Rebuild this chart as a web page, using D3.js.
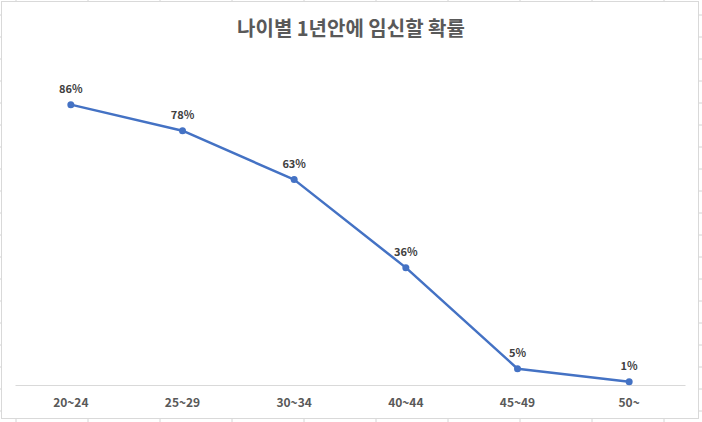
<!DOCTYPE html>
<html><head><meta charset="utf-8">
<script src="https://cdn.jsdelivr.net/npm/d3@7"></script>
<style>html,body{margin:0;padding:0;background:#fff;}svg{display:block;}</style>
</head><body>
<svg id="c" width="702" height="422"></svg>
<script>
const title = "나이별 1년안에 임신할 확률";
const categories = ["20~24","25~29","30~34","40~44","45~49","50~"];
const values = [86, 78, 63, 36, 5, 1];
const valueLabels = ["86%","78%","63%","36%","5%","1%"];

const svg = d3.select("#c");
const W = 702, H = 422;
const font = "'Noto Sans CJK KR','Noto Sans',sans-serif";

// spreadsheet grid stubs outside the chart frame
const stub = "#d4d4d4";
for (let y = 15; y < H; y += 22) {
  svg.append("line").attr("x1",0).attr("x2",2).attr("y1",y).attr("y2",y).attr("stroke",stub);
  svg.append("line").attr("x1",699).attr("x2",702).attr("y1",y).attr("y2",y).attr("stroke",stub);
}
for (let x = 16; x < W; x += 72) {
  svg.append("line").attr("x1",x).attr("x2",x).attr("y1",0).attr("y2",2).attr("stroke",stub);
  svg.append("line").attr("x1",x).attr("x2",x).attr("y1",419).attr("y2",422).attr("stroke",stub);
}
// chart frame
svg.append("rect").attr("x",1.5).attr("y",1.5).attr("width",697).attr("height",417)
  .attr("fill","#fff").attr("stroke","#d9d9d9").attr("stroke-width",1);

const plot = {left:15, right:685, top:59, bottom:385};
const x = d3.scaleBand().domain(categories).range([plot.left, plot.right]);
const y = d3.scaleLinear().domain([0,100]).range([plot.bottom, plot.top]);

// title
svg.append("text").attr("x",W/2).attr("y",36).attr("text-anchor","middle")
  .attr("font-family",font).attr("font-size",20).attr("font-weight","bold")
  .attr("fill","#595959").text(title);

// x axis
const xAxis = svg.append("g").attr("transform",`translate(0,${plot.bottom})`)
  .call(d3.axisBottom(x).tickSize(0).tickPadding(13));
xAxis.select(".domain").attr("stroke","#d9d9d9").attr("stroke-width",1);
xAxis.selectAll("text").attr("font-family",font).attr("font-size",12)
  .attr("font-weight","bold").attr("fill","#595959");

const data = categories.map((c,i)=>({c, v:values[i], l:valueLabels[i]}));
const cx = d => x(d.c) + x.bandwidth()/2;

svg.append("path").datum(data)
  .attr("d", d3.line().x(cx).y(d=>y(d.v)))
  .attr("fill","none").attr("stroke","#4472C4").attr("stroke-width",2.5)
  .attr("stroke-linejoin","round");

svg.selectAll("circle.pt").data(data).join("circle").attr("class","pt")
  .attr("cx",cx).attr("cy",d=>y(d.v)).attr("r",3.5).attr("fill","#4472C4");

svg.selectAll("text.lbl").data(data).join("text").attr("class","lbl")
  .attr("x",cx).attr("y",d=>y(d.v)-12).attr("text-anchor","middle")
  .attr("font-family",font).attr("font-size",11).attr("font-weight","bold")
  .attr("fill","#404040").text(d=>d.l);
</script>
</body></html>
